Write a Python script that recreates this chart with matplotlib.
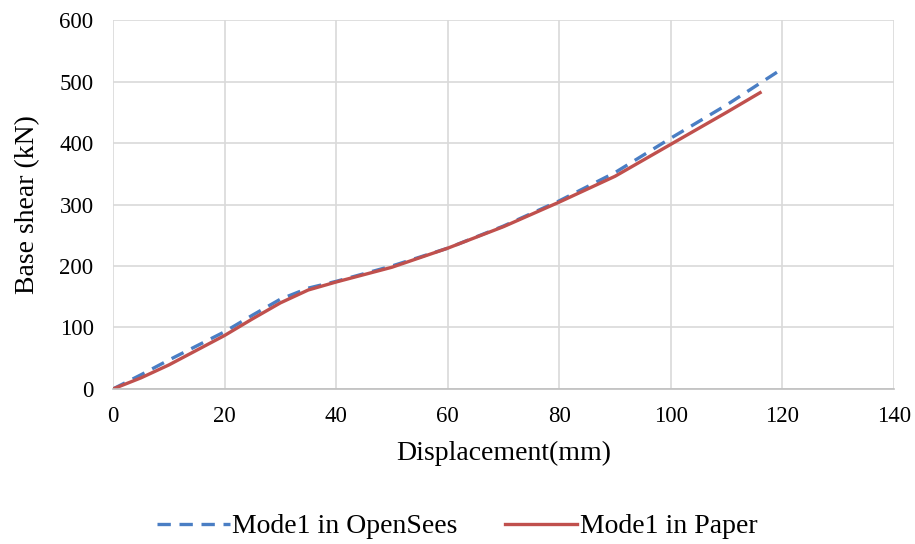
import matplotlib.pyplot as plt

# Pushover curves
disp_opensees = [0, 5, 10, 15, 20, 25, 30, 35, 40, 50, 60, 70, 80, 90, 100, 110, 120]
shear_opensees = [0, 23, 47, 70, 93, 120, 146, 164, 175, 200, 229, 265, 306, 352, 408, 462, 521]
disp_paper = [0, 5, 10, 15, 20, 25, 30, 35, 40, 50, 60, 70, 80, 90, 100, 110, 116]
shear_paper = [0, 18, 39, 63, 87, 114, 140, 161, 174, 198, 229, 264, 304, 346, 398, 450, 482]

plt.rcParams['font.family'] = ['Liberation Serif', 'DejaVu Serif']

fig = plt.figure(figsize=(9.15, 5.44), dpi=100)
ax = fig.add_axes([0.1235, 0.285, 0.8535, 0.678])

ax.plot(disp_opensees, shear_opensees, color='#4A7EC4', lw=2.4,
        dashes=(4, 2.6), label='Mode1 in OpenSees')
ax.plot(disp_paper, shear_paper, color='#C0504D', lw=2.4, label='Mode1 in Paper')

ax.set_xlim(0, 140)
ax.set_ylim(0, 600)
ax.set_xticks(range(0, 141, 20))
ax.set_yticks(range(0, 601, 100))
ax.grid(True, color='#D9D9D9', lw=1.2)
ax.set_axisbelow(True)
for s in ['top', 'right', 'left']:
    ax.spines[s].set_visible(False)
ax.spines['bottom'].set_color('#BFBFBF')
ax.spines['bottom'].set_linewidth(1.2)
ax.tick_params(length=0, labelsize=16.5, colors='black')
ax.tick_params(axis='x', pad=12)
ax.tick_params(axis='y', pad=14)

ax.set_xlabel('Displacement(mm)', fontsize=20, labelpad=10)
ax.set_ylabel('Base shear (kN)', fontsize=20, labelpad=14)

fig.legend(loc='center', bbox_to_anchor=(0.5, 0.032), ncol=2, frameon=False,
           fontsize=20, handlelength=2.6, columnspacing=1.7, handletextpad=0.1)

plt.savefig('out.png', dpi=100)
